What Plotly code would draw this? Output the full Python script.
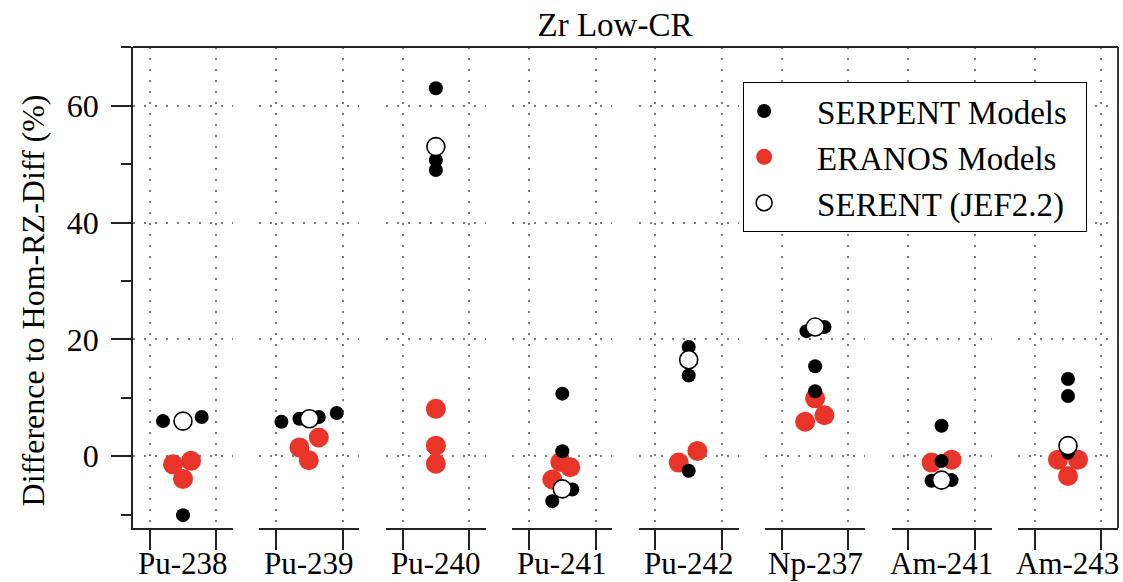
import plotly.graph_objects as go

categories = ["Pu-238", "Pu-239", "Pu-240", "Pu-241", "Pu-242", "Np-237", "Am-241", "Am-243"]

# SERPENT Models (values in %, jitter position inside each category panel)
serpent_values = [
    [6.0, 6.7, -10.1],
    [5.9, 6.4, 6.7, 7.4],
    [63.0, 50.7, 49.0],
    [10.7, 0.85, -5.7, -7.7],
    [18.7, 13.8, -2.5],
    [21.4, 22.1, 15.4, 11.1],
    [5.2, -0.85, -4.2, -4.1],
    [13.2, 10.3, 0.6],
]
serpent_jitter = [
    [0.20, 0.78, 0.50],
    [0.08, 0.35, 0.64, 0.91],
    [0.50, 0.50, 0.50],
    [0.50, 0.50, 0.65, 0.35],
    [0.50, 0.50, 0.50],
    [0.37, 0.64, 0.50, 0.50],
    [0.50, 0.50, 0.35, 0.65],
    [0.50, 0.50, 0.50],
]

# ERANOS Models
eranos_values = [
    [-1.4, -0.8, -3.9],
    [1.5, 3.2, -0.7],
    [8.1, 1.8, -1.3],
    [-1.0, -1.9, -4.0],
    [0.9, -1.1],
    [9.9, 7.0, 5.9],
    [-1.1, -0.6],
    [-0.6, -0.6, -3.4],
]
eranos_jitter = [
    [0.35, 0.62, 0.50],
    [0.35, 0.64, 0.49],
    [0.50, 0.50, 0.50],
    [0.47, 0.62, 0.35],
    [0.63, 0.35],
    [0.50, 0.64, 0.35],
    [0.35, 0.65],
    [0.35, 0.65, 0.50],
]

# SERENT (JEF2.2)
jef_values = [6.0, 6.4, 53.0, -5.6, 16.5, 22.1, -4.1, 1.8]
jef_jitter = [0.50, 0.50, 0.50, 0.50, 0.50, 0.50, 0.50, 0.50]

FONT = "Liberation Serif"
RED = "#E9342A"
AXC = "#222222"
GRIDC = "#7a7a7a"
PAD = "\u00a0" * 4
TRAIL = "\u00a0" * 2

n = len(categories)
width_px, gap_px = 100.0, 26.4
total = n * width_px + (n - 1) * gap_px

fig = go.Figure()

def xa(k):
    return "x" if k == 0 else f"x{k+1}"

# order: ERANOS (bottom), SERPENT, JEF (top)
for k in range(n):
    fig.add_trace(go.Scatter(
        x=eranos_jitter[k], y=eranos_values[k], mode="markers",
        marker=dict(color=RED, size=20, line=dict(width=0)),
        name=PAD + "ERANOS Models", legendgroup="er", legendrank=2,
        showlegend=(k == 0), xaxis=xa(k), yaxis="y"))
for k in range(n):
    fig.add_trace(go.Scatter(
        x=serpent_jitter[k], y=serpent_values[k], mode="markers",
        marker=dict(color="black", size=14, line=dict(width=0)),
        name=PAD + "SERPENT Models", legendgroup="sp", legendrank=1,
        showlegend=(k == 0), xaxis=xa(k), yaxis="y"))
for k in range(n):
    fig.add_trace(go.Scatter(
        x=[jef_jitter[k]], y=[jef_values[k]], mode="markers",
        marker=dict(color="white", size=18, line=dict(width=1.6, color="black")),
        name=PAD + "SERENT (JEF2.2)" + TRAIL, legendgroup="jef", legendrank=3,
        showlegend=(k == 0), xaxis=xa(k), yaxis="y"))

layout = dict(
    width=1123, height=582,
    margin=dict(l=133, r=5, t=47, b=54),
    paper_bgcolor="white", plot_bgcolor="white",
    font=dict(family=FONT, size=32, color="black"),
    title=dict(text="Zr Low-CR", x=615 / 1123, xanchor="center", xref="container",
               y=1 - 24 / 582, yanchor="middle", yref="container",
               font=dict(family=FONT, size=33, color="black")),
    showlegend=True,
    legend=dict(x=(743 - 133) / total, y=(528 - 82) / 481, xanchor="left", yanchor="top",
                bgcolor="white", bordercolor="black", borderwidth=1,
                font=dict(family=FONT, size=33, color="black"),
                traceorder="normal", itemsizing="trace"),
)

for k in range(n):
    start = k * (width_px + gap_px) / total
    end = start + width_px / total
    key = "xaxis" if k == 0 else f"xaxis{k+1}"
    layout[key] = dict(
        domain=[start, min(end, 1.0)], range=[-0.25, 1.25], anchor="y",
        tickvals=[0, 1], showticklabels=False, ticks="outside", ticklen=20,
        tickwidth=1.6, tickcolor=AXC, showline=True, linecolor=AXC, linewidth=1.8,
        showgrid=True, gridcolor=GRIDC, gridwidth=1.6, griddash="2px,9px",
        zeroline=False, fixedrange=True,
    )

layout["yaxis"] = dict(
    domain=[0, 1], range=[-12.3, 70.05], anchor="x",
    tickvals=[0, 20, 40, 60], ticks="outside", ticklen=20, tickwidth=1.6, tickcolor=AXC,
    minor=dict(tickvals=[-10, 10, 30, 50, 70], ticks="outside", ticklen=10,
               tickwidth=1.6, tickcolor=AXC, showgrid=False),
    showline=True, linecolor=AXC, linewidth=1.8,
    showgrid=True, gridcolor=GRIDC, gridwidth=1.6, griddash="2px,9px",
    zeroline=False, ticklabelstandoff=6,
    tickfont=dict(family=FONT, size=32, color="black"),
)

fig.update_layout(**layout)

# category labels under each panel
for k, cat in enumerate(categories):
    fig.add_annotation(text=cat, xref=f"{xa(k)} domain", x=0.5, yref="paper", y=0,
                       yshift=-35, xanchor="center", yanchor="middle", showarrow=False,
                       font=dict(family=FONT, size=31, color="black"))

# y-axis title
fig.add_annotation(text="Difference to Hom-RZ-Diff (%)", textangle=-90,
                   xref="paper", x=-100 / total, yref="paper", y=0.5, yshift=-13,
                   xanchor="center", yanchor="middle", showarrow=False,
                   font=dict(family=FONT, size=32, color="black"))

# top and right frame lines
fig.add_shape(type="line", xref="paper", yref="paper", x0=0, x1=1, y0=1, y1=1,
              line=dict(color=AXC, width=1.8))
fig.add_shape(type="line", xref="paper", yref="paper", x0=1, x1=1, y0=0, y1=1,
              line=dict(color=AXC, width=1.8))

fig.write_html("out.html")
